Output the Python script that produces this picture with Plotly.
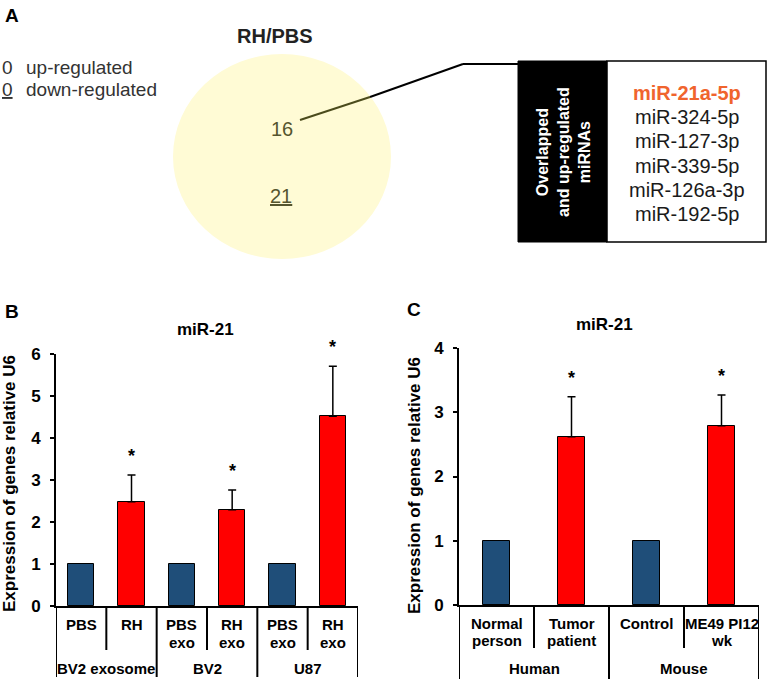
import plotly.graph_objects as go

# ---------------- data ----------------
venn_title = "RH/PBS"
venn_up_count = "16"
venn_down_count = "21"
legend_counts = ["0", "0"]
legend_items = ["up-regulated", "down-regulated"]
box_title = "Overlapped<br>and up-regulated<br>miRNAs"
mirnas = ["miR-21a-5p", "miR-324-5p", "miR-127-3p", "miR-339-5p", "miR-126a-3p", "miR-192-5p"]

cats_B = ["PBS", "RH", "PBS<br>exo", "RH<br>exo", "PBS<br>exo", "RH<br>exo"]
groups_B = ["BV2 exosome", "BV2", "U87"]
vals_B = [1.0, 2.48, 1.0, 2.29, 1.0, 4.52]
err_B = [0.0, 0.64, 0.0, 0.47, 0.0, 1.19]
sig_B = [False, True, False, True, False, True]

cats_C = ["Normal<br>person", "Tumor<br>patient", "Control", "ME49 PI12<br>wk"]
groups_C = ["Human", "Mouse"]
vals_C = [1.0, 2.62, 1.0, 2.79]
err_C = [0.0, 0.62, 0.0, 0.48]
sig_C = [False, True, False, True]

y_title = "Expression of genes relative U6"
panel_title = "miR-21"

# ---------------- helpers ----------------
W, H = 768, 679
FONT = "Arial, Liberation Sans, sans-serif"
BLUE = "#1F4E79"
RED = "#FF0000"


def px(x):
    return x / W


def py(y):
    return 1 - y / H


fig = go.Figure()
ann = []
shapes = []


def text_at(x, y, text, size, color="black", xanchor="center", angle=0):
    ann.append(dict(x=px(x), y=py(y), xref="paper", yref="paper", text=text, showarrow=False,
                    xanchor=xanchor, yanchor="middle", textangle=angle,
                    font=dict(size=size, color=color, family=FONT)))


def add_bars(vals, errs, xa, ya, width):
    n = len(vals)
    ctrl = [i for i in range(n) if i % 2 == 0]
    trt = [i for i in range(n) if i % 2 == 1]
    fig.add_trace(go.Bar(x=ctrl, y=[vals[i] for i in ctrl], width=width,
                         marker=dict(color=BLUE, line=dict(color="black", width=1)),
                         xaxis=xa, yaxis=ya, showlegend=False))
    fig.add_trace(go.Bar(x=trt, y=[vals[i] for i in trt], width=width,
                         marker=dict(color=RED, line=dict(color="black", width=1)),
                         error_y=dict(type="data", symmetric=False,
                                      array=[errs[i] for i in trt],
                                      arrayminus=[0] * len(trt),
                                      color="black", thickness=1.5, width=4),
                         xaxis=xa, yaxis=ya, showlegend=False))


add_bars(vals_B, err_B, "x", "y", 0.52)
add_bars(vals_C, err_C, "x2", "y2", 0.35)

# stars
for xa, ya, vals, errs, sig in [("x", "y", vals_B, err_B, sig_B), ("x2", "y2", vals_C, err_C, sig_C)]:
    for i, (v, e, s) in enumerate(zip(vals, errs, sig)):
        if s:
            ann.append(dict(x=i, y=v + e, xref=xa, yref=ya, text="<b>*</b>", showarrow=False,
                            xanchor="center", yanchor="middle", yshift=19,
                            font=dict(size=18, color="black", family=FONT)))


# category labels + dividers
def cat_labels(cats, groups, xa, y_first, line_sp, y_group, y_axis, y_short, y_long):
    n = len(cats)
    for i, c in enumerate(cats):
        for j, line in enumerate(c.split("<br>")):
            ann.append(dict(x=i, y=py(y_first + j * line_sp), xref=xa, yref="paper", text="<b>%s</b>" % line,
                            showarrow=False, xanchor="center", yanchor="middle",
                            font=dict(size=15, color="black", family=FONT)))
    for g, name in enumerate(groups):
        ann.append(dict(x=2 * g + 0.5, y=py(y_group), xref=xa, yref="paper", text="<b>%s</b>" % name,
                        showarrow=False, xanchor="center", yanchor="middle",
                        font=dict(size=15, color="black", family=FONT)))
    for k in range(n + 1):
        xb = k - 0.5
        yend = y_long if k % 2 == 0 else y_short
        shapes.append(dict(type="line", xref=xa, yref="paper", x0=xb, x1=xb, y0=py(y_axis), y1=py(yend),
                           line=dict(color="black", width=2)))


cat_labels(cats_B, groups_B, "x", 624, 18, 668, 606, 650, 677)
cat_labels(cats_C, groups_C, "x2", 623, 17, 668, 605, 648, 679)

# y titles, panel titles, panel letters
text_at(9, 484, "<b>%s</b>" % y_title, 17, angle=-90)
text_at(414, 486, "<b>%s</b>" % y_title, 17, angle=-90)
text_at(205, 329, "<b>%s</b>" % panel_title, 17)
text_at(604, 324, "<b>%s</b>" % panel_title, 17)
text_at(12, 312, "<b>B</b>", 19)
text_at(414, 310, "<b>C</b>", 19)
text_at(12, 15, "<b>A</b>", 19)

# ---------------- panel A ----------------
shapes.append(dict(type="circle", xref="paper", yref="paper", x0=px(173), x1=px(391), y0=py(259), y1=py(54),
                   fillcolor="#FFFBD5", line=dict(width=0), layer="below"))
shapes += [
    dict(type="line", xref="paper", yref="paper", x0=px(300), y0=py(120), x1=px(370), y1=py(97),
         line=dict(color="#4B4B1C", width=2)),
    dict(type="line", xref="paper", yref="paper", x0=px(370), y0=py(97), x1=px(463), y1=py(64),
         line=dict(color="black", width=2)),
    dict(type="line", xref="paper", yref="paper", x0=px(463), y0=py(64), x1=px(518), y1=py(64),
         line=dict(color="black", width=2)),
    dict(type="rect", xref="paper", yref="paper", x0=px(518), x1=px(607), y0=py(242), y1=py(61),
         fillcolor="black", line=dict(color="black", width=1), layer="below"),
    dict(type="rect", xref="paper", yref="paper", x0=px(607), x1=px(766), y0=py(242), y1=py(61),
         fillcolor="white", line=dict(color="black", width=1.5), layer="below"),
]

text_at(275, 36, "<b>%s</b>" % venn_title, 20, "#222222")
text_at(282, 129, venn_up_count, 20, "#55552E")
text_at(281, 196, "<u>%s</u>" % venn_down_count, 20, "#55552E")
text_at(563, 152, "<b>%s</b>" % box_title, 16, "white", angle=-90)

for k, (cnt, item) in enumerate(zip(legend_counts, legend_items)):
    yy = 68 + 22 * k
    cnt_txt = cnt if k == 0 else "<u>%s</u>" % cnt
    text_at(0, yy, cnt_txt, 19, "#333333", xanchor="left")
    text_at(24, yy, item, 19, "#333333", xanchor="left")

for k, m in enumerate(mirnas):
    yy = 93 + 24.2 * k
    if k == 0:
        text_at(687, yy, "<b>%s</b>" % m, 20, "#F0642D")
    else:
        text_at(687, yy, m, 20, "#1a1a1a")

# ---------------- layout ----------------
axis_common = dict(showline=True, linecolor="black", linewidth=2, showgrid=False, zeroline=False,
                   automargin=False)
fig.update_layout(
    width=W, height=H, autosize=False,
    margin=dict(l=0, r=0, t=0, b=0, pad=0),
    paper_bgcolor="white", plot_bgcolor="white",
    barmode="overlay", bargap=0,
    font=dict(family=FONT),
    xaxis=dict(domain=[px(56), px(358)], range=[-0.5, 5.5], showticklabels=False, ticks="",
               anchor="y", **axis_common),
    yaxis=dict(domain=[py(606), py(354)], range=[0, 6], dtick=1, ticks="outside", ticklen=4,
               tickwidth=1.5, tickcolor="black", anchor="x", ticklabelstandoff=6,
               tickfont=dict(size=17, color="black", family=FONT, weight="bold"), **axis_common),
    xaxis2=dict(domain=[px(459), px(759)], range=[-0.5, 3.5], showticklabels=False, ticks="",
                anchor="y2", **axis_common),
    yaxis2=dict(domain=[py(605), py(348)], range=[0, 4], dtick=1, ticks="outside", ticklen=4,
                tickwidth=1.5, tickcolor="black", anchor="x2", ticklabelstandoff=6,
                tickfont=dict(size=17, color="black", family=FONT, weight="bold"), **axis_common),
    annotations=ann,
    shapes=shapes,
)

fig.write_html("out.html", config={"displayModeBar": False},
               post_script="document.body.style.margin='0px';")
